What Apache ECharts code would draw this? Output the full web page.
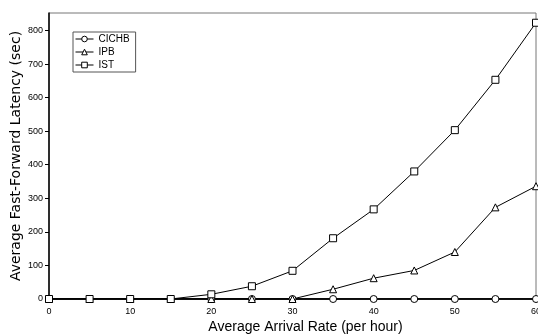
<!DOCTYPE html>
<html>
<head>
<meta charset="utf-8">
<script src="https://cdn.jsdelivr.net/npm/echarts@6/dist/echarts.min.js"></script>
<style>html,body{margin:0;padding:0;background:#fff}#c{width:538px;height:336px}</style>
</head>
<body>
<div id="c"></div>
<script>
var xCats = [0, 5, 10, 15, 20, 25, 30, 35, 40, 45, 50, 55, 60];
var cichb = [0, 0, 0, 0, 0, 0, 0, 0, 0, 0, 0, 0, 0];
var ipb = [0, 0, 0, 0, 0, 0, 0, 29, 62, 85, 140, 273, 336];
var ist = [0, 0, 0, 0, 14, 38, 84, 181, 267, 380, 503, 653, 823];
var seriesNames = ['CICHB', 'IPB', 'IST'];
var yTicks = [0, 100, 200, 300, 400, 500, 600, 700, 800];

function pairs(arr) { return xCats.map(function (x, i) { return [x, arr[i]]; }); }

var font = 'Liberation Sans, DejaVu Sans, sans-serif';
var chart = echarts.init(document.getElementById('c'));
function mk(name, data, symbol, size, lw) {
  return {
    name: name, type: 'line', data: pairs(data), symbol: symbol, symbolSize: size,
    lineStyle: { color: '#000', width: lw },
    itemStyle: { color: '#fff', borderColor: '#000', borderWidth: 1 },
    emphasis: { disabled: true }, z: 3
  };
}
chart.setOption({
  animation: false,
  textStyle: { fontFamily: font },
  grid: { left: 49, right: 2, top: 13, bottom: 37, outerBoundsMode: 'none', containLabel: false, show: true, borderColor: '#777', borderWidth: 1, backgroundColor: 'transparent' },
  legend: {
    orient: 'vertical', left: 73, top: 32, itemGap: 3, itemWidth: 18, itemHeight: 7,
    padding: [2, 6, 2, 2], borderColor: '#555', borderWidth: 1,
    textStyle: { fontSize: 10, color: '#000', fontFamily: font },
    itemStyle: { borderWidth: 1 },
    lineStyle: { width: 1 },
    data: seriesNames
  },
  xAxis: {
    type: 'value', min: 0, max: 60, interval: 10,
    name: 'Average Arrival Rate (per hour)', nameLocation: 'middle', nameGap: 21, nameMoveOverlap: false,
    nameTextStyle: { fontSize: 14, color: '#000', fontFamily: font, padding: [0, 0, 0, 26] },
    axisLine: { lineStyle: { color: '#000', width: 1.5 } },
    axisTick: { show: false },
    axisLabel: { fontSize: 9, color: '#000', margin: 8 },
    splitLine: { show: false }
  },
  yAxis: {
    type: 'value', min: 0, max: 852, interval: 100,
    name: 'Average Fast-Forward Latency (sec)', nameLocation: 'middle', nameGap: 26, nameMoveOverlap: false,
    nameTextStyle: { fontSize: 14, color: '#000', fontFamily: 'DejaVu Sans, sans-serif' },
    axisLine: { show: true, lineStyle: { color: '#000', width: 1.5 } },
    axisTick: { show: true, inside: false, length: 4, lineStyle: { color: '#000' }, customValues: yTicks },
    axisLabel: { fontSize: 9, color: '#000', margin: 6, customValues: yTicks },
    splitLine: { show: false }
  },
  series: [
    mk('CICHB', cichb, 'circle', 7, 1.5),
    mk('IPB', ipb, 'triangle', 7, 1),
    mk('IST', ist, 'rect', 7, 1)
  ]
});
</script>
</body>
</html>
